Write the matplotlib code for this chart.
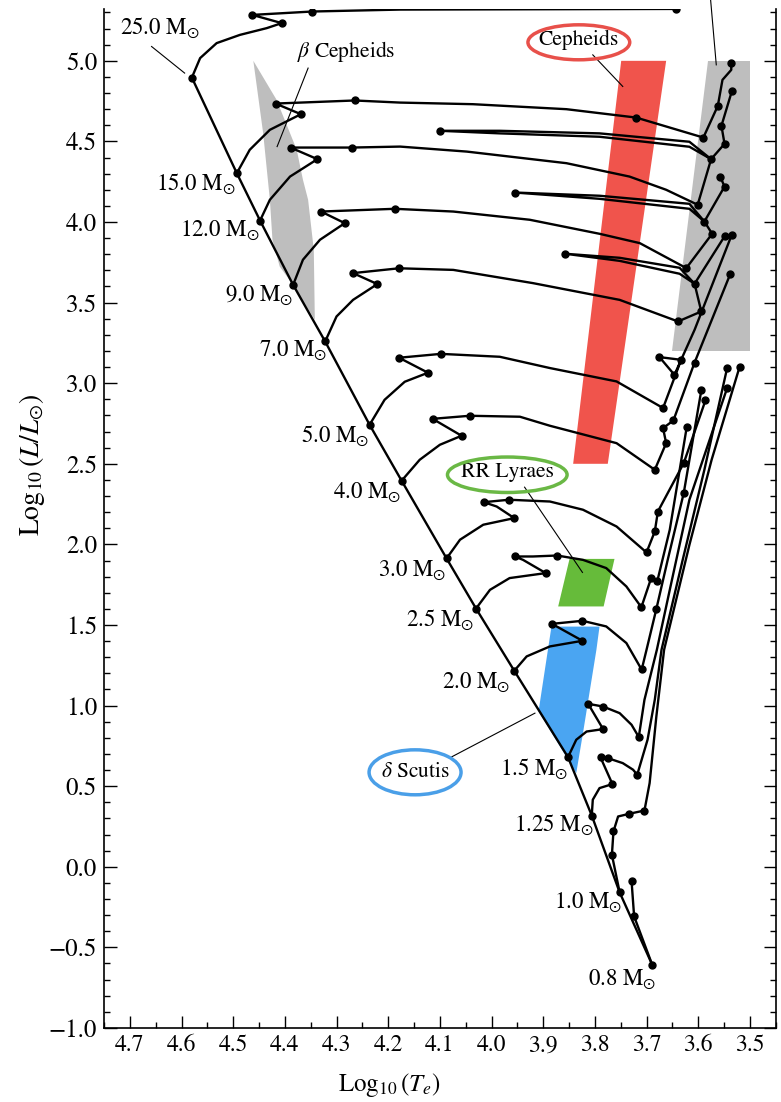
import matplotlib
matplotlib.use("Agg")
import matplotlib.pyplot as plt
from matplotlib.patches import Ellipse
from matplotlib.ticker import MultipleLocator

plt.rcParams["font.family"] = ["STIXGeneral", "DejaVu Serif"]
plt.rcParams["mathtext.fontset"] = "stix"

# evolutionary tracks: log10 Te, log10 L/Lsun, indices of the marked points
M25_TE = [4.580, 4.564, 4.532, 4.487, 4.435, 4.406, 4.463, 4.347, 4.177, 3.642]
M25_L = [4.896, 5.017, 5.110, 5.161, 5.203, 5.234, 5.285, 5.306, 5.318, 5.322]
M25_DOTS = [0, 5, 6, 7, 9]

M15_TE = [4.493, 4.468, 4.429, 4.369, 4.418, 4.265, 4.177, 4.036, 3.855, 3.720,
          3.590, 3.562, 3.553, 3.536, 3.536]
M15_L = [4.303, 4.448, 4.572, 4.669, 4.735, 4.754, 4.741, 4.731, 4.700, 4.648,
         4.524, 4.721, 4.882, 4.944, 4.989]
M15_DOTS = [0, 3, 4, 5, 9, 10, 11, 14]

M12_TE = [4.448, 4.429, 4.390, 4.337, 4.389, 4.271, 4.177, 4.048, 3.855, 3.733,
          3.662, 3.601, 3.575, 3.617, 3.791, 3.984, 4.100, 3.984, 3.791, 3.617,
          3.575, 3.549, 3.555, 3.535]
M12_L = [4.009, 4.138, 4.282, 4.390, 4.462, 4.462, 4.468, 4.437, 4.365, 4.282,
         4.200, 4.107, 4.390, 4.498, 4.550, 4.566, 4.566, 4.550, 4.529, 4.467,
         4.390, 4.485, 4.597, 4.810]
M12_DOTS = [0, 3, 4, 5, 11, 12, 16, 21, 22, 23]

M9_TE = [4.384, 4.365, 4.332, 4.284, 4.330, 4.187, 4.074, 3.926, 3.791, 3.713,
         3.623, 3.573, 3.588, 3.617, 3.791, 3.955, 3.791, 3.617, 3.588, 3.549, 3.557]
M9_L = [3.610, 3.766, 3.890, 3.993, 4.065, 4.082, 4.065, 4.014, 3.927, 3.869,
        3.714, 3.927, 4.003, 4.113, 4.163, 4.183, 4.144, 4.082, 4.003, 4.220, 4.279]
M9_DOTS = [0, 3, 4, 5, 10, 11, 12, 15, 19, 20]

M7_TE = [4.322, 4.300, 4.268, 4.221, 4.268, 4.179, 4.074, 3.920, 3.752, 3.639,
         3.594, 3.607, 3.636, 3.752, 3.857, 3.752, 3.636, 3.607, 3.548]
M7_L = [3.259, 3.414, 3.517, 3.615, 3.683, 3.713, 3.703, 3.621, 3.517, 3.383,
        3.445, 3.617, 3.716, 3.778, 3.803, 3.759, 3.679, 3.617, 3.916]
M7_DOTS = [0, 3, 4, 5, 9, 10, 11, 14, 18]

M5_TE = [4.236, 4.207, 4.168, 4.123, 4.179, 4.098, 3.984, 3.887, 3.758, 3.668,
         3.633, 3.675, 3.646, 3.607, 3.535]
M5_L = [2.742, 2.897, 3.009, 3.065, 3.158, 3.182, 3.164, 3.094, 3.011, 2.846,
        3.145, 3.162, 3.052, 3.331, 3.921]
M5_DOTS = [0, 3, 4, 5, 9, 10, 11, 12, 14]

M4_TE = [4.174, 4.139, 4.100, 4.058, 4.114, 4.042, 3.945, 3.887, 3.758, 3.684,
         3.662, 3.668, 3.648, 3.607, 3.538]
M4_L = [2.395, 2.525, 2.618, 2.674, 2.779, 2.798, 2.792, 2.736, 2.628, 2.463,
        2.628, 2.721, 2.769, 3.128, 3.677]
M4_DOTS = [0, 3, 4, 5, 9, 10, 11, 12, 13, 14]

M3_TE = [4.087, 4.061, 4.016, 3.956, 3.990, 4.015, 3.966, 3.887, 3.823, 3.758,
         3.700, 3.684, 3.678, 3.628, 3.586]
M3_L = [1.913, 2.029, 2.122, 2.163, 2.235, 2.262, 2.277, 2.266, 2.215, 2.111,
        1.950, 2.080, 2.204, 2.504, 2.893]
M3_DOTS = [0, 3, 5, 6, 10, 11, 12, 13, 14]

M2P5_TE = [4.030, 4.003, 3.965, 3.895, 3.939, 3.955, 3.920, 3.873, 3.823, 3.778,
           3.739, 3.710, 3.691, 3.679, 3.655, 3.622]
M2P5_L = [1.602, 1.718, 1.791, 1.822, 1.904, 1.925, 1.925, 1.931, 1.904, 1.853,
          1.739, 1.610, 1.791, 1.774, 2.091, 2.731]
M2P5_DOTS = [0, 3, 5, 7, 11, 12, 13, 15]

M2_TE = [3.956, 3.932, 3.887, 3.824, 3.883, 3.824, 3.778, 3.739, 3.713, 3.709,
         3.700, 3.681, 3.659, 3.628, 3.594]
M2_L = [1.216, 1.305, 1.367, 1.402, 1.507, 1.526, 1.491, 1.388, 1.243, 1.228,
        1.346, 1.599, 1.904, 2.318, 2.955]
M2_DOTS = [0, 3, 4, 5, 9, 11, 13, 14]

M1P5_TE = [3.852, 3.836, 3.816, 3.784, 3.813, 3.784, 3.752, 3.729, 3.715, 3.704,
           3.680, 3.655, 3.617, 3.544]
M1P5_L = [0.680, 0.788, 0.839, 0.854, 1.011, 0.994, 0.953, 0.881, 0.805, 1.036,
          1.346, 1.718, 2.277, 2.970]
M1P5_DOTS = [0, 3, 4, 5, 8, 13]

M1P25_TE = [3.806, 3.804, 3.791, 3.766, 3.789, 3.775, 3.746, 3.726, 3.718, 3.698,
            3.684, 3.671, 3.630, 3.588, 3.544]
M1P25_L = [0.318, 0.416, 0.488, 0.513, 0.678, 0.674, 0.643, 0.602, 0.571, 0.788,
           1.036, 1.346, 1.904, 2.463, 3.094]
M1P25_DOTS = [0, 3, 4, 5, 8, 14]

M1_TE = [3.752, 3.767, 3.764, 3.755, 3.733, 3.704, 3.694, 3.681, 3.666, 3.617,
         3.574, 3.520]
M1_L = [-0.159, 0.074, 0.219, 0.312, 0.329, 0.349, 0.519, 0.932, 1.346, 1.997,
        2.525, 3.100]
M1_DOTS = [0, 1, 2, 4, 5, 11]

M08_TE = [3.689, 3.724, 3.729]
M08_L = [-0.608, -0.308, -0.087]
M08_DOTS = [0, 1, 2]

# zero-age main sequence
ZAMS_TE = [4.580, 4.493, 4.448, 4.384, 4.322, 4.236, 4.174, 4.087, 4.030, 3.956,
           3.852, 3.806, 3.752, 3.689]
ZAMS_L = [4.896, 4.303, 4.009, 3.610, 3.259, 2.742, 2.395, 1.913, 1.602, 1.216,
          0.680, 0.318, -0.159, -0.608]

MASS_NAMES = ["25.0", "15.0", "12.0", "9.0", "7.0", "5.0", "4.0", "3.0", "2.5",
              "2.0", "1.5", "1.25", "1.0", "0.8"]
LABEL_TE = [4.642, 4.572, 4.526, 4.450, 4.384, 4.303, 4.241, 4.154, 4.100, 4.029,
            3.918, 3.880, 3.812, 3.748]
LABEL_L = [5.205, 4.237, 3.952, 3.548, 3.207, 2.674, 2.326, 1.842, 1.532, 1.148,
           0.608, 0.261, -0.217, -0.695]

# instability regions
BCEP_TE = [4.461, 4.416, 4.377, 4.365, 4.355, 4.344, 4.342, 4.384, 4.410, 4.424, 4.429, 4.442]
BCEP_L = [5.000, 4.758, 4.448, 4.262, 4.138, 3.828, 3.393, 3.610, 3.724, 3.890, 4.138, 4.551]
CEPH_TE = [3.749, 3.662, 3.775, 3.842]
CEPH_L = [5.0, 5.0, 2.5, 2.5]
LPV_TE = [3.581, 3.500, 3.500, 3.650]
LPV_L = [5.0, 5.0, 3.2, 3.2]
RRLYR_TE = [3.849, 3.762, 3.783, 3.871]
RRLYR_L = [1.91, 1.91, 1.615, 1.615]
DSCT_TE = [3.884, 3.791, 3.797, 3.823, 3.836, 3.909]
DSCT_L = [1.49, 1.49, 1.346, 0.829, 0.581, 0.964]

fig = plt.figure(figsize=(7.81, 11.02), dpi=100)
ax = fig.add_axes([0.1332, 0.0672, 0.8600, 0.9244])

ax.fill(BCEP_TE, BCEP_L, color="#BEBEBE", lw=0, zorder=1)
ax.fill(LPV_TE, LPV_L, color="#BEBEBE", lw=0, zorder=1)
ax.fill(CEPH_TE, CEPH_L, color="#F0544C", lw=0, zorder=1)
ax.fill(RRLYR_TE, RRLYR_L, color="#66BB3A", lw=0, zorder=1)
ax.fill(DSCT_TE, DSCT_L, color="#4AA5F2", lw=0, zorder=1)

tracks = [
    (M25_TE, M25_L, M25_DOTS), (M15_TE, M15_L, M15_DOTS), (M12_TE, M12_L, M12_DOTS),
    (M9_TE, M9_L, M9_DOTS), (M7_TE, M7_L, M7_DOTS), (M5_TE, M5_L, M5_DOTS),
    (M4_TE, M4_L, M4_DOTS), (M3_TE, M3_L, M3_DOTS), (M2P5_TE, M2P5_L, M2P5_DOTS),
    (M2_TE, M2_L, M2_DOTS), (M1P5_TE, M1P5_L, M1P5_DOTS),
    (M1P25_TE, M1P25_L, M1P25_DOTS), (M1_TE, M1_L, M1_DOTS), (M08_TE, M08_L, M08_DOTS),
]
for te, lum, dots in tracks:
    ax.plot(te, lum, color="black", lw=1.7, zorder=3, solid_joinstyle="round")
    ax.plot([te[i] for i in dots], [lum[i] for i in dots], "o", color="black",
            ms=5, zorder=4)
ax.plot(ZAMS_TE, ZAMS_L, color="black", lw=1.7, zorder=3)

for name, te, lum in zip(MASS_NAMES, LABEL_TE, LABEL_L):
    ax.text(te, lum, name + r" M$_{\odot}$", ha="center", va="center", fontsize=16.5)

# labels with leader lines
ax.text(4.282, 5.056, r"$\beta$ Cepheids", ha="center", va="center", fontsize=15.5)
ax.text(3.831, 5.13, "Cepheids", ha="center", va="center", fontsize=15.5)
ax.text(3.9695, 2.447, "RR Lyraes", ha="center", va="center", fontsize=15.5)
ax.text(4.148, 0.589, r"$\delta$ Scutis", ha="center", va="center", fontsize=15.5)
ax.add_patch(Ellipse((3.831, 5.115), 0.197, 0.217, fill=False, ec="#E8504A", lw=2.5, zorder=5))
ax.add_patch(Ellipse((3.9695, 2.432), 0.2315, 0.220, fill=False, ec="#6AB845", lw=2.5, zorder=5))
ax.add_patch(Ellipse((4.148, 0.586), 0.178, 0.279, fill=False, ec="#4A9FE8", lw=2.5, zorder=5))

leaders = [
    ((4.658, 4.594), (5.089, 4.924)),
    ((4.355, 4.415), (4.955, 4.468)),
    ((3.804, 3.746), (5.037, 4.841)),
    ((3.936, 3.824), (2.355, 1.826)),
    ((4.077, 3.916), (0.682, 0.953)),
]
for xs, ys in leaders:
    ax.plot(xs, ys, color="black", lw=0.8, zorder=2)
ax.plot([3.576, 3.565], [5.38, 4.975], color="black", lw=0.8, zorder=2, clip_on=False)

ax.set_xlim(4.75, 3.45)
ax.set_ylim(-1.0, 5.32)
ax.xaxis.set_major_locator(MultipleLocator(0.1))
ax.xaxis.set_minor_locator(MultipleLocator(0.05))
ax.yaxis.set_major_locator(MultipleLocator(0.5))
ax.yaxis.set_minor_locator(MultipleLocator(0.1))
ax.tick_params(which="both", direction="in", left=True, right=True, bottom=True,
               top=False, width=1.0)
ax.tick_params(axis="x", labelsize=17, pad=5)
ax.tick_params(axis="y", labelsize=18, pad=5)
ax.tick_params(which="major", length=9)
ax.tick_params(which="minor", length=4.5)
ax.spines["top"].set_visible(False)
for side in ("left", "right", "bottom"):
    ax.spines[side].set_linewidth(1.2)

ax.set_xlabel(r"Log$_{10}\,(T_e)$", fontsize=18)
ax.xaxis.set_label_coords(0.424, -0.056)
ax.xaxis.label.set_va("center")
ax.set_ylabel(r"Log$_{10}\,(L/L_{\odot})$", fontsize=20)
ax.yaxis.set_label_coords(-0.107, 0.553)
ax.yaxis.label.set_va("center")

fig.savefig("out.png", dpi=100)
